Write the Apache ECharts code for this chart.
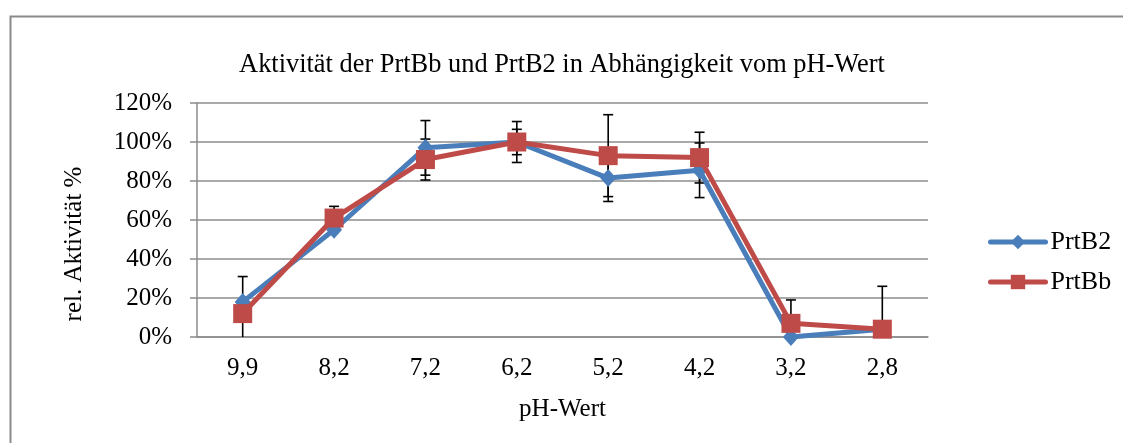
<!DOCTYPE html>
<html>
<head>
<meta charset="utf-8">
<script src="https://cdn.jsdelivr.net/npm/echarts@6/dist/echarts.min.js"></script>
<style>
  html, body { margin: 0; padding: 0; background: #fff; }
  #chart { width: 1123px; height: 443px; }
</style>
</head>
<body>
<div id="chart"></div>
<script>
// pH values on the x axis
var phValues = ['9,9', '8,2', '7,2', '6,2', '5,2', '4,2', '3,2', '2,8'];
// relative activity in %
var prtB2 = [18, 55, 97, 100, 81.5, 85.5, 0, 4];
var prtBb = [12, 61, 91, 100, 93, 92, 7, 4];
// error bar half-widths in % (null = no visible bar)
var errB2 = [null, null, 14, 10.5, 12, 14, null, null];
var errBb = [19, 6, 10.5, 6.5, 21, 13, 12, 22];
var yTicks = [0, 20, 40, 60, 80, 100, 120];

var serif = '"Liberation Serif", "Times New Roman", serif';
var gridGray = '#8c8c8c';

function errData(vals, errs) {
    var out = [];
    for (var i = 0; i < vals.length; i++) {
        if (errs[i] == null) continue;
        out.push([i, vals[i] - errs[i], vals[i] + errs[i]]);
    }
    return out;
}

function renderErr(params, api) {
    var x = api.value(0);
    var lo = api.coord([x, api.value(1)]);
    var hi = api.coord([x, api.value(2)]);
    var half = 5;
    var style = { stroke: '#000', lineWidth: 1.6 };
    return {
        type: 'group',
        children: [
            { type: 'line', shape: { x1: hi[0], y1: hi[1], x2: lo[0], y2: lo[1] }, style: style },
            { type: 'line', shape: { x1: hi[0] - half, y1: hi[1], x2: hi[0] + half, y2: hi[1] }, style: style },
            { type: 'line', shape: { x1: lo[0] - half, y1: lo[1], x2: lo[0] + half, y2: lo[1] }, style: style }
        ]
    };
}

var chart = echarts.init(document.getElementById('chart'));
chart.setOption({
    backgroundColor: '#fff',
    animation: false,
    textStyle: { fontFamily: serif, color: '#000' },
    graphic: [{
        type: 'rect',
        left: 8, top: 14,
        shape: { width: 1300, height: 600 },
        style: { fill: 'none', stroke: '#8a8a8a', lineWidth: 2 },
        z: -1
    }],
    title: {
        text: 'Aktivität der PrtBb und PrtB2 in Abhängigkeit vom pH-Wert',
        left: 557, textAlign: 'center', top: 47,
        textStyle: { fontFamily: serif, fontSize: 26.4, fontWeight: 'normal', color: '#000' }
    },
    legend: {
        orient: 'vertical',
        left: 988, top: 229, padding: 0,
        itemWidth: 55, itemHeight: 18, itemGap: 14,
        lineStyle: { width: 5, cap: 'round' },
        textStyle: { fontFamily: serif, fontSize: 26, lineHeight: 26, color: '#000' },
        data: ['PrtB2', 'PrtBb']
    },
    grid: { left: 197, right: 195, top: 103, bottom: 106 },
    xAxis: {
        type: 'category',
        data: phValues,
        boundaryGap: true,
        name: 'pH-Wert',
        nameLocation: 'middle',
        nameGap: 60,
        nameTextStyle: { fontFamily: serif, fontSize: 25, color: '#000' },
        axisLine: { lineStyle: { color: gridGray, width: 1.5 } },
        axisTick: { show: false },
        axisLabel: { fontFamily: serif, fontSize: 25, color: '#000', margin: 19 }
    },
    yAxis: {
        type: 'value',
        min: yTicks[0], max: yTicks[yTicks.length - 1], interval: 20,
        name: 'rel. Aktivität %',
        nameLocation: 'middle',
        nameGap: 110,
        nameTextStyle: { fontFamily: serif, fontSize: 25, color: '#000', padding: [0, 48, 0, 0] },
        axisLine: { show: true, lineStyle: { color: gridGray, width: 1.5 } },
        axisTick: { show: true, length: 7, lineStyle: { color: gridGray, width: 1.5 } },
        splitLine: { lineStyle: { color: gridGray, width: 1.5 } },
        axisLabel: { fontFamily: serif, fontSize: 25, color: '#000', margin: 25, formatter: '{value}%' }
    },
    series: [
        {
            type: 'custom', name: 'errB2', clip: true, z: 1,
            renderItem: renderErr, data: errData(prtB2, errB2),
            encode: { x: 0, y: [1, 2] }
        },
        {
            type: 'custom', name: 'errBb', clip: true, z: 1,
            renderItem: renderErr, data: errData(prtBb, errBb),
            encode: { x: 0, y: [1, 2] }
        },
        {
            name: 'PrtB2', type: 'line', z: 3,
            data: prtB2,
            symbol: 'diamond', symbolSize: [16, 18],
            lineStyle: { color: '#4a7ebb', width: 5 },
            itemStyle: { color: '#4a7ebb' }
        },
        {
            name: 'PrtBb', type: 'line', z: 4,
            data: prtBb,
            symbol: 'rect', symbolSize: 19,
            lineStyle: { color: '#be4b48', width: 5 },
            itemStyle: { color: '#be4b48' }
        }
    ]
});
</script>
</body>
</html>
